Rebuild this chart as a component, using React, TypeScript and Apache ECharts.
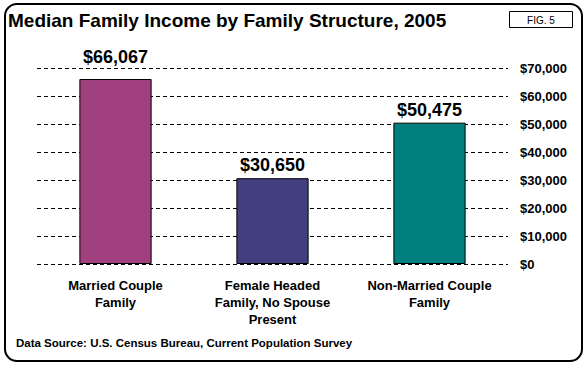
import React, { useEffect, useRef } from "react";
import * as echarts from "echarts";

const categories = ["Married Couple\nFamily", "Female Headed\nFamily, No Spouse\nPresent", "Non-Married Couple\nFamily"];
const incomes = [66067, 30650, 50475];
const barColors = ["#A0407E", "#413F7E", "#007F7F"];
const labelLift = [9, 0, 0];
const yTicks = { min: 0, max: 70000, interval: 10000 };

const FONT = "'Liberation Sans', Arial, sans-serif";

const fmt = (v: number) => "$" + v.toLocaleString("en-US");

export default function App() {
  const ref = useRef<HTMLDivElement>(null);
  useEffect(() => {
    if (!ref.current) return;
    const chart = echarts.init(ref.current, undefined, { renderer: "svg" });
    chart.setOption({
      animation: false,
      backgroundColor: "#ffffff",
      title: {
        text: "Median Family Income by Family Structure, 2005",
        left: 8,
        top: 11,
        padding: 0,
        textStyle: { fontFamily: FONT, fontWeight: "bold", fontSize: 19, color: "#000" },
      },
      graphic: [
        {
          type: "rect",
          shape: { x: 5, y: 4, width: 577, height: 357, r: 12 },
          style: { fill: "none", stroke: "#000", lineWidth: 2 },
          silent: true,
        },
        {
          type: "rect",
          shape: { x: 509.5, y: 11.5, width: 63, height: 16 },
          style: { fill: "#fff", stroke: "#000", lineWidth: 1 },
        },
        {
          type: "text",
          x: 541,
          y: 20,
          style: {
            text: "FIG. 5",
            fontFamily: FONT,
            fontSize: 10,
            fill: "#000",
            align: "center",
            verticalAlign: "middle",
          },
        },
        {
          type: "text",
          x: 16,
          y: 343,
          style: {
            text: "Data Source: U.S. Census Bureau, Current Population Survey",
            fontFamily: FONT,
            fontSize: 11.5,
            fontWeight: "bold",
            fill: "#000",
            verticalAlign: "middle",
          },
        },
      ],
      grid: { left: 37, right: 80, top: 68, bottom: 104 },
      xAxis: {
        type: "category",
        data: categories,
        axisLine: { show: false },
        axisTick: { show: false },
        axisLabel: {
          fontFamily: FONT,
          fontWeight: "bold",
          fontSize: 13,
          color: "#000",
          lineHeight: 17,
          margin: 13,
          interval: 0,
        },
      },
      yAxis: {
        type: "value",
        position: "right",
        min: yTicks.min,
        max: yTicks.max,
        interval: yTicks.interval,
        axisLine: { show: false },
        axisTick: { show: false },
        splitLine: { lineStyle: { color: "#000", type: [4, 3], width: 1 } },
        axisLabel: {
          fontFamily: FONT,
          fontWeight: "bold",
          fontSize: 13,
          color: "#000",
          margin: 12,
          formatter: (v: number) => fmt(v),
        },
      },
      series: [
        {
          type: "bar",
          barWidth: "46%",
          data: incomes.map((v, i) => ({
            value: v,
            itemStyle: { color: barColors[i], borderColor: "#000", borderWidth: 1 },
            label: { distance: 4 + labelLift[i] },
          })),
          label: {
            show: true,
            position: "top",
            fontFamily: FONT,
            fontWeight: "bold",
            fontSize: 18,
            color: "#000",
            formatter: (p: any) => fmt(p.value),
          },
        },
      ],
    });
    return () => chart.dispose();
  }, []);
  return (
    <div
      ref={ref}
      style={{ position: "fixed", left: 0, top: 0, width: 588, height: 368 }}
    />
  );
}
